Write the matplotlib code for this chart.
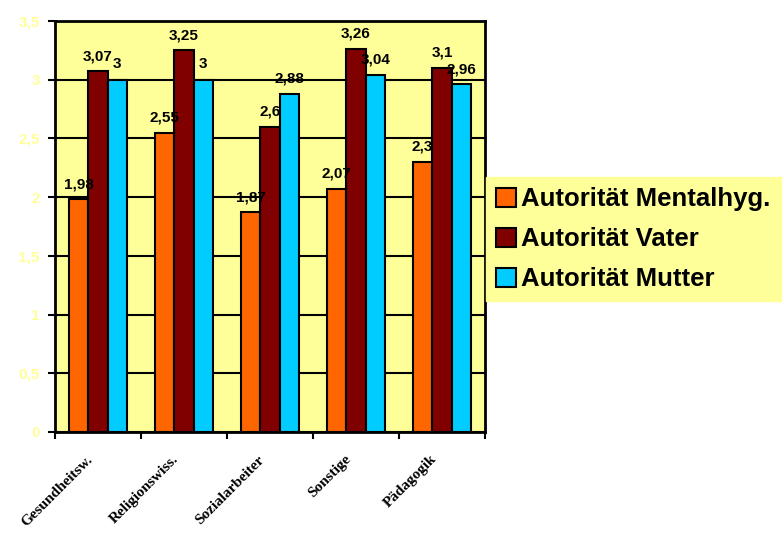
import matplotlib.pyplot as plt
import matplotlib.transforms as mtransforms
import numpy as np

categories = ['Gesundheitsw.', 'Religionswiss.', 'Sozialarbeiter', 'Sonstige', 'Pädagogik']
series_names = ['Autorität Mentalhyg.', 'Autorität Vater', 'Autorität Mutter']
mentalhyg = [1.98, 2.55, 1.87, 2.07, 2.3]
vater = [3.07, 3.25, 2.6, 3.26, 3.1]
mutter = [3.0, 3.0, 2.88, 3.04, 2.96]
y_ticks = [0, 0.5, 1, 1.5, 2, 2.5, 3, 3.5]

colors = ['#FF6600', '#800000', '#00CCFF']
bg = '#FFFF99'


def fmt(v):
    s = ('%.2f' % v).rstrip('0').rstrip('.')
    return s.replace('.', ',')


fig = plt.figure(figsize=(7.84, 5.33), dpi=100)
ax = fig.add_axes([0.0702, 0.1895, 0.5484, 0.7711])
ax.set_facecolor(bg)

x = np.arange(len(categories))
w = 0.225
for i, (vals, name) in enumerate(zip([mentalhyg, vater, mutter], series_names)):
    pos = x + (i - 1) * w
    bars = ax.bar(pos, vals, w, color=colors[i], edgecolor='black', linewidth=1.5,
                  label=name, zorder=3)
    for b, v in zip(bars, vals):
        ax.annotate(fmt(v), (b.get_x() + b.get_width() / 2, v), xytext=(0, 6),
                    textcoords='offset points', ha='center', va='bottom',
                    fontsize=11, fontweight='bold', family='Liberation Sans', zorder=5)

ax.set_xlim(-0.5, len(categories) - 0.5)
ax.set_ylim(0, 3.5)
ax.set_yticks(y_ticks)
ax.set_yticklabels([fmt(t) for t in y_ticks], color=bg, fontweight='bold',
                   fontsize=11, family='Liberation Sans')
ax.yaxis.grid(True, color='black', linewidth=1.5, zorder=1)
ax.set_axisbelow(True)

ax.set_xticks(x)
ax.set_xticklabels(categories, rotation=45, ha='right', rotation_mode='anchor',
                   fontweight='bold', fontsize=11, family='Liberation Serif')
ax.tick_params(axis='x', which='major', length=0, pad=15)
shift = mtransforms.ScaledTranslation(-12 / 100, 0, fig.dpi_scale_trans)
for lab in ax.get_xticklabels():
    lab.set_transform(lab.get_transform() + shift)
ax.set_xticks(np.arange(len(categories) + 1) - 0.5, minor=True)
ax.tick_params(axis='x', which='minor', length=5, width=1.5, direction='out')
ax.tick_params(axis='y', length=5, width=1.5, direction='out', pad=6)

for s in ax.spines.values():
    s.set_linewidth(2)

leg = fig.legend(loc='upper left', bbox_to_anchor=(0.62, 0.668), frameon=True,
                 fancybox=False, facecolor=bg, edgecolor=bg, framealpha=1,
                 prop={'family': 'Liberation Sans', 'weight': 'bold', 'size': 18.5},
                 handlelength=0.76, handleheight=0.76, handletextpad=0.2,
                 labelspacing=0.62, borderpad=0.4, borderaxespad=0)

fig.savefig('out.png', dpi=100, facecolor='white')
